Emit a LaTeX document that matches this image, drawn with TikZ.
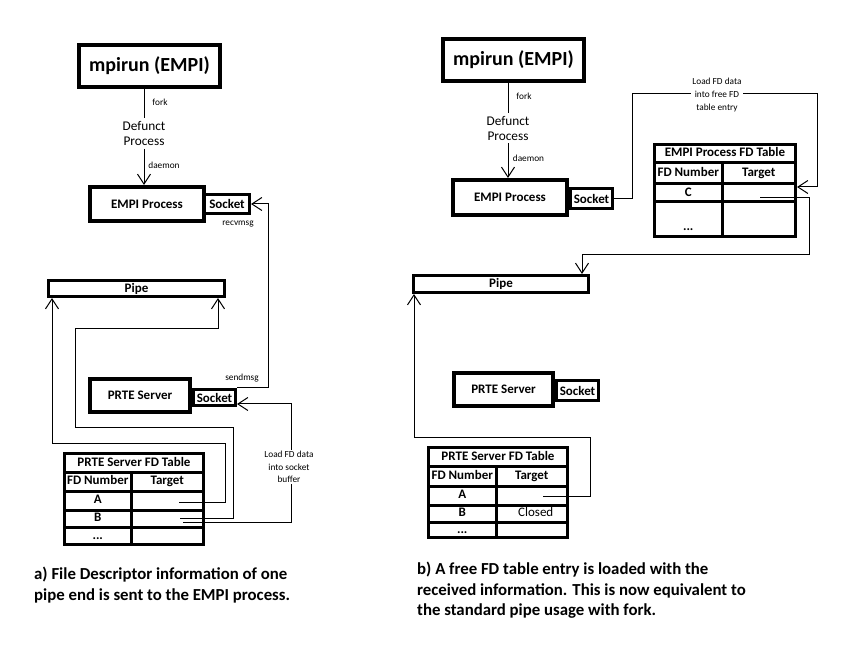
\documentclass[tikz,border=0pt]{standalone}
\usepackage{fontspec}
\setmainfont{Carlito}
\usetikzlibrary{arrows.meta}

\begin{document}
\begin{tikzpicture}[x=1pt, y=-1pt,
    bigbox/.style={draw, line width=4pt, inner sep=0pt, font=\bfseries\fontsize{13}{15}\selectfont},
    smallbox/.style={draw, line width=3pt, inner sep=0pt, font=\bfseries\fontsize{13}{15}\selectfont},
    cell/.style={smallbox, text height=9.5pt, text depth=3pt},
    note/.style={inner sep=0pt, align=center, font=\fontsize{9.3}{12.8}\selectfont},
    midtext/.style={inner sep=3pt, align=center, font=\fontsize{13.3}{15}\selectfont},
    link/.style={line width=1pt},
    arrowlink/.style={link, -{Straight Barb[length=10pt, width=13pt]}},
    captiontext/.style={inner sep=0pt, align=left, anchor=north west, font=\bfseries\fontsize{16.8}{20.5}\selectfont}]
    \useasboundingbox (0, 0) rectangle (868, 660);

    \node[bigbox, minimum width=141, minimum height=42, font=\bfseries\fontsize{20}{24}\selectfont] (mpiA) at (149.5, 66) {mpirun (EMPI)};
    \node[midtext] (defA) at (144, 133.5) {Defunct\\Process};
    \node[smallbox, minimum width=45, minimum height=19] (sockEA) at (227, 204) {Socket};
    \node[bigbox, minimum width=114, minimum height=34] (empA) at (147, 204) {EMPI Process};
    \node[note] (forkA) at (160, 102) {fork};
    \node[note] (daemonA) at (164, 165) {daemon};
    \node[note] (recvA) at (238, 224) {recvmsg};
    \draw[link] (defA.north |- mpiA.south) -- (defA.north);
    \draw[arrowlink] (defA.south) -- (defA.south |- empA.north);

    \node[smallbox, minimum width=176, minimum height=16] (pipeA) at (136.5, 288.5) {Pipe};
    \node[smallbox, minimum width=42, minimum height=16] (sockPA) at (214.5, 397.5) {Socket};
    \node[bigbox, minimum width=100, minimum height=33] (prteA) at (140, 395.5) {PRTE Server};
    \node[note] (sendA) at (242, 378) {sendmsg};

    \node[cell, minimum width=139, minimum height=18.5] (titleA) at (134, 462.75) {PRTE Server FD Table};
    \node[cell, minimum width=66.5, minimum height=19] (numA) at (97.75, 481.5) {FD Number};
    \node[cell, minimum width=72.5, minimum height=19] (tgtA) at (167.25, 481.5) {Target};
    \node[cell, minimum width=66.5, minimum height=19] (rowAa) at (97.75, 500.5) {A};
    \node[cell, minimum width=72.5, minimum height=19] (rowAb) at (167.25, 500.5) {};
    \node[cell, minimum width=66.5, minimum height=17] (rowBa) at (97.75, 518.5) {B};
    \node[cell, minimum width=72.5, minimum height=17] (rowBb) at (167.25, 518.5) {};
    \node[cell, minimum width=66.5, minimum height=17.5] (rowDa) at (97.75, 535.75) {...};
    \node[cell, minimum width=72.5, minimum height=17.5] (rowDb) at (167.25, 535.75) {};

    \coordinate (fromAa) at (179, 502);
    \coordinate (fromAb) at (180, 518);
    \coordinate (fromAc) at (183, 522);
    \draw[arrowlink] (fromAa) -| (225, 443) -| ([xshift=5pt]pipeA.south west);
    \draw[arrowlink] (fromAb) -| (233, 427) -| (75, 329) -| ([xshift=-8pt]pipeA.south east);
    \draw[arrowlink] (fromAc) -| (291, 404) -- ([yshift=-6.5pt]sockPA.east);
    \draw[arrowlink] (sockPA.north east) -- ++(31, 0) |- (sockEA.east);
    \node[note, fill=white, inner sep=1pt] (loadA) at (289, 467) {Load FD data\\into socket\\buffer};

    \node[bigbox, minimum width=141, minimum height=42, font=\bfseries\fontsize{20}{24}\selectfont] (mpiB) at (513.5, 60) {mpirun (EMPI)};
    \node[midtext] (defB) at (508, 128) {Defunct\\Process};
    \node[smallbox, minimum width=42, minimum height=20] (sockEB) at (591.5, 198.5) {Socket};
    \node[bigbox, minimum width=114, minimum height=35] (empB) at (510, 197.5) {EMPI Process};
    \node[note] (forkB) at (524, 96) {fork};
    \node[note] (daemonB) at (528.5, 158) {daemon};
    \draw[link] (defB.north |- mpiB.south) -- (defB.north);
    \draw[arrowlink] (defB.south) -- (defB.south |- empB.north);

    \node[cell, minimum width=141, minimum height=18.5] (titleC) at (725, 153.75) {EMPI Process FD Table};
    \node[cell, minimum width=67.5, minimum height=21] (numC) at (688.25, 173.5) {FD Number};
    \node[cell, minimum width=73.5, minimum height=21] (tgtC) at (758.75, 173.5) {Target};
    \node[cell, minimum width=67.5, minimum height=18] (rowCa) at (688.25, 193) {C};
    \node[cell, minimum width=73.5, minimum height=18] (rowCb) at (758.75, 193) {};
    \node[cell, minimum width=67.5, minimum height=34.5, text height=24pt, text depth=2pt] (rowEa) at (688.25, 219.25) {...};
    \node[cell, minimum width=73.5, minimum height=34.5] (rowEb) at (758.75, 219.25) {};

    \node[smallbox, minimum width=175, minimum height=17] (pipeB) at (501, 284) {Pipe};
    \node[smallbox, minimum width=42, minimum height=20] (sockPB) at (577.5, 390.5) {Socket};
    \node[bigbox, minimum width=99, minimum height=33] (prteB) at (503.5, 389.5) {PRTE Server};

    \draw[arrowlink] (sockEB.east) -| (632, 94) -| (817, 187) -- ([yshift=6pt]rowCb.east);
    \node[note, fill=white, inner sep=1pt] (loadB) at (717, 95) {Load FD data\\into free FD\\table entry};
    \coordinate (fromCb) at (760, 198);
    \draw[arrowlink] (fromCb) -| (809, 255) -| ([xshift=-8pt]pipeB.north east);

    \node[cell, minimum width=139, minimum height=18.5] (titleB) at (498, 456.75) {PRTE Server FD Table};
    \node[cell, minimum width=67.5, minimum height=20] (numB) at (462.25, 476) {FD Number};
    \node[cell, minimum width=71.5, minimum height=20] (tgtB) at (531.75, 476) {Target};
    \node[cell, minimum width=67.5, minimum height=19] (rowFa) at (462.25, 495.5) {A};
    \node[cell, minimum width=71.5, minimum height=19] (rowFb) at (531.75, 495.5) {};
    \node[cell, minimum width=67.5, minimum height=17] (rowGa) at (462.25, 513.5) {B};
    \node[cell, minimum width=71.5, minimum height=17, font=\fontsize{13}{15}\selectfont] (rowGb) at (531.75, 513.5) {\hspace{8pt}Closed};
    \node[cell, minimum width=67.5, minimum height=15.5] (rowHa) at (462.25, 529.75) {...};
    \node[cell, minimum width=71.5, minimum height=15.5] (rowHb) at (531.75, 529.75) {};

    \coordinate (fromFb) at (543, 496);
    \draw[arrowlink] (fromFb) -| (590, 437) -| ([xshift=2pt]pipeB.south west);

    \node[captiontext] (capA) at (34, 567) {a) File Descriptor information of one\\pipe end is sent to the EMPI process.};
    \node[captiontext] (capB) at (417, 562) {b) A free FD table entry is loaded with the\\received information. This is now equivalent to\\the standard pipe usage with fork.};
\end{tikzpicture}
\end{document}
